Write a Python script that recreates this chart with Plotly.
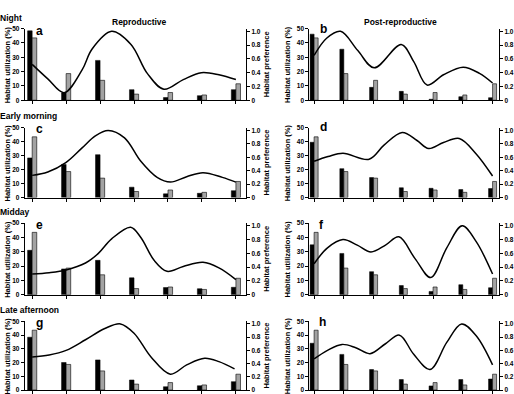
import plotly.graph_objects as go

# ---------------- data ----------------
class_idx = [0, 1, 2, 3, 4, 5, 6]
available = [43.5, 18.6, 13.9, 4.3, 5.4, 3.7, 11.5]

used_a = [48.4, 5.1, 27.8, 7.4, 1.9, 3.2, 7.4]
used_b = [46.1, 35.6, 9.0, 6.2, 0.7, 2.5, 1.8]
used_c = [28.4, 23.7, 30.7, 7.4, 2.6, 3.0, 4.9]
used_d = [39.6, 20.7, 14.3, 7.0, 6.6, 5.7, 6.4]
used_e = [31.0, 18.0, 24.0, 11.8, 5.0, 4.2, 5.2]
used_f = [34.8, 28.8, 16.1, 6.4, 2.3, 7.0, 4.9]
used_g = [38.4, 20.0, 21.9, 7.3, 2.4, 3.1, 6.1]
used_h = [34.0, 25.9, 14.9, 7.6, 3.0, 7.6, 8.0]

pref_a_x = [0, 0.46, 0.94, 1.47, 1.76, 2.34, 2.91, 3.39, 3.88, 4.45, 4.98, 5.5, 6.0]
pref_a_y = [0.52, 0.31, 0.11, 0.44, 0.74, 1.0, 0.81, 0.39, 0.16, 0.30, 0.40, 0.37, 0.30]
pref_b_x = [0, 0.42, 0.89, 1.47, 2.02, 2.93, 3.35, 3.8, 4.35, 5.01, 5.56, 6.0]
pref_b_y = [0.65, 0.90, 1.0, 0.72, 0.47, 0.81, 0.56, 0.22, 0.37, 0.48, 0.39, 0.25]
pref_c_x = [0, 0.46, 0.99, 1.47, 1.86, 2.24, 2.72, 3.2, 3.68, 4.07, 4.55, 5.03, 5.6, 6.0]
pref_c_y = [0.33, 0.38, 0.52, 0.74, 0.92, 1.0, 0.89, 0.54, 0.30, 0.23, 0.31, 0.37, 0.30, 0.23]
pref_d_x = [0, 0.47, 0.97, 1.85, 2.35, 2.96, 3.46, 3.85, 4.35, 4.88, 5.45, 6.0]
pref_d_y = [0.54, 0.61, 0.66, 0.57, 0.78, 0.97, 0.85, 0.73, 0.82, 0.88, 0.65, 0.32]
pref_e_x = [0, 0.5, 1.0, 1.57, 1.95, 2.34, 2.9, 3.2, 3.59, 3.97, 4.45, 5.03, 5.5, 6.0]
pref_e_y = [0.30, 0.32, 0.36, 0.46, 0.60, 0.81, 0.98, 0.83, 0.50, 0.34, 0.41, 0.47, 0.39, 0.22]
pref_f_x = [0, 0.45, 0.97, 1.45, 1.91, 2.4, 2.85, 3.4, 3.92, 4.46, 4.98, 5.45, 6.0]
pref_f_y = [0.45, 0.68, 0.80, 0.72, 0.62, 0.72, 0.84, 0.52, 0.25, 0.68, 1.0, 0.77, 0.30]
pref_g_x = [0, 0.5, 1.0, 1.57, 2.14, 2.6, 3.0, 3.5, 4.07, 4.55, 5.08, 5.5, 5.96]
pref_g_y = [0.50, 0.53, 0.60, 0.76, 0.93, 1.0, 0.86, 0.50, 0.24, 0.38, 0.48, 0.43, 0.32]
pref_h_x = [0, 0.45, 0.94, 1.4, 1.88, 2.4, 2.87, 3.35, 3.9, 4.46, 4.96, 5.45, 6.0]
pref_h_y = [0.47, 0.60, 0.69, 0.64, 0.55, 0.70, 0.83, 0.54, 0.31, 0.72, 1.0, 0.82, 0.38]

panel_letters = ["a", "b", "c", "d", "e", "f", "g", "h"]
row_labels = ["Night", "Early morning", "Midday", "Late afternoon"]
col_titles = ["Reproductive", "Post-reproductive"]
left_ticks = [0, 10, 20, 30, 40, 50]
right_ticks = [0, 0.2, 0.4, 0.6, 0.8, 1.0]
right_ticktext = ["0", "0.2", "0.4", "0.6", "0.8", "1.0"]

used_all = [used_a, used_b, used_c, used_d, used_e, used_f, used_g, used_h]
pref_all = [(pref_a_x, pref_a_y), (pref_b_x, pref_b_y), (pref_c_x, pref_c_y),
            (pref_d_x, pref_d_y), (pref_e_x, pref_e_y), (pref_f_x, pref_f_y),
            (pref_g_x, pref_g_y), (pref_h_x, pref_h_y)]

# ---------------- layout geometry (pixels) ----------------
W, H = 514, 394
col_px = [(25, 249), (313, 505)]
col_range = [[-0.22, 6.3], [-0.16, 6.22]]
row_px = [(25, 98), (126, 197), (223, 296), (323, 393)]
row_label_y = [14, 114, 212, 312]
letter_pos = [(40, 27), (327, 25), (40, 127), (327, 125), (40, 225), (325, 225), (40, 325), (326, 324)]

FONT = "Liberation Sans, Arial, sans-serif"

def px_x(p):
    return p / W

def px_y(p):
    return 1 - p / H

fig = go.Figure()
layout = dict(width=W, height=H, margin=dict(l=0, r=0, t=0, b=0),
              plot_bgcolor="white", paper_bgcolor="white", showlegend=False,
              barmode="overlay", font=dict(family=FONT, color="black"))
annotations = []
tickfont = dict(family=FONT, size=6.5, color="black", weight="bold")

for i in range(8):
    r, c = divmod(i, 2)
    xn = "x" if i == 0 else f"x{i+1}"
    yn = "y" if i == 0 else f"y{i+1}"
    y2n = f"y{i+9}"
    xk = "xaxis" if i == 0 else f"xaxis{i+1}"
    yk = "yaxis" if i == 0 else f"yaxis{i+1}"
    y2k = f"yaxis{i+9}"
    xd = [px_x(col_px[c][0]), px_x(col_px[c][1])]
    yd = [px_y(row_px[r][1]), px_y(row_px[r][0])]

    layout[xk] = dict(domain=xd, range=col_range[c], anchor=yn, showgrid=False, zeroline=False,
                      showline=True, linecolor="black", linewidth=1, ticks="outside",
                      ticklen=3, tickcolor="black", tickvals=class_idx, showticklabels=False)
    layout[yk] = dict(domain=yd, range=[0, 50], anchor=xn, showgrid=False, zeroline=False,
                      showline=True, linecolor="black", linewidth=1, ticks="outside",
                      ticklen=3, tickcolor="black", tickvals=left_ticks, tickfont=tickfont)
    layout[y2k] = dict(range=[0, 1.04], overlaying=yn, side="right", anchor=xn,
                       showgrid=False, zeroline=False, showline=True, linecolor="black",
                       linewidth=1, ticks="outside", ticklen=3, tickcolor="black",
                       tickvals=right_ticks, ticktext=right_ticktext, tickfont=tickfont)

    fig.add_trace(go.Bar(x=class_idx, y=used_all[i], width=0.135, offset=-0.135,
                         marker=dict(color="black", line=dict(color="black", width=0.5)),
                         xaxis=xn, yaxis=yn))
    fig.add_trace(go.Bar(x=class_idx, y=available, width=0.135, offset=0,
                         marker=dict(color="#a3a3a3", line=dict(color="black", width=0.6)),
                         xaxis=xn, yaxis=yn))
    px_, py_ = pref_all[i]
    fig.add_trace(go.Scatter(x=px_, y=py_, mode="lines",
                             line=dict(color="black", width=1.5, shape="spline", smoothing=1.0),
                             xaxis=xn, yaxis=y2n))

    # panel letter
    lx, ly = letter_pos[i]
    annotations.append(dict(text=panel_letters[i], x=px_x(lx), y=px_y(ly), xref="paper", yref="paper",
                            showarrow=False, xanchor="center", yanchor="middle",
                            font=dict(family=FONT, size=12, color="black", weight="bold")))
    # y titles
    ymid = px_y((row_px[r][0] + row_px[r][1]) / 2)
    ut_x = 8 if c == 0 else 291
    annotations.append(dict(text="Habitat utilization (%)", x=px_x(ut_x), y=ymid, xref="paper",
                            yref="paper", showarrow=False, textangle=-90, xanchor="center",
                            yanchor="middle",
                            font=dict(family=FONT, size=7.5, color="black", weight="bold")))
    if c == 0:
        annotations.append(dict(text="Habitat preference", x=px_x(270), y=ymid, xref="paper",
                                yref="paper", showarrow=False, textangle=-90, xanchor="center",
                                yanchor="middle",
                                font=dict(family=FONT, size=7.5, color="black", weight="bold")))

for r in range(4):
    annotations.append(dict(text=row_labels[r], x=px_x(-2), y=px_y(row_label_y[r]), xref="paper",
                            yref="paper", showarrow=False, xanchor="left", yanchor="middle",
                            font=dict(family=FONT, size=8.5, color="black", weight="bold")))

annotations.append(dict(text=col_titles[0], x=px_x(141), y=px_y(18), xref="paper", yref="paper",
                        showarrow=False, xanchor="center", yanchor="middle",
                        font=dict(family=FONT, size=8.5, color="black", weight="bold")))
annotations.append(dict(text=col_titles[1], x=px_x(405), y=px_y(18), xref="paper", yref="paper",
                        showarrow=False, xanchor="center", yanchor="middle",
                        font=dict(family=FONT, size=8.5, color="black", weight="bold")))

layout["annotations"] = annotations
fig.update_layout(**layout)
fig.write_html("out.html")
